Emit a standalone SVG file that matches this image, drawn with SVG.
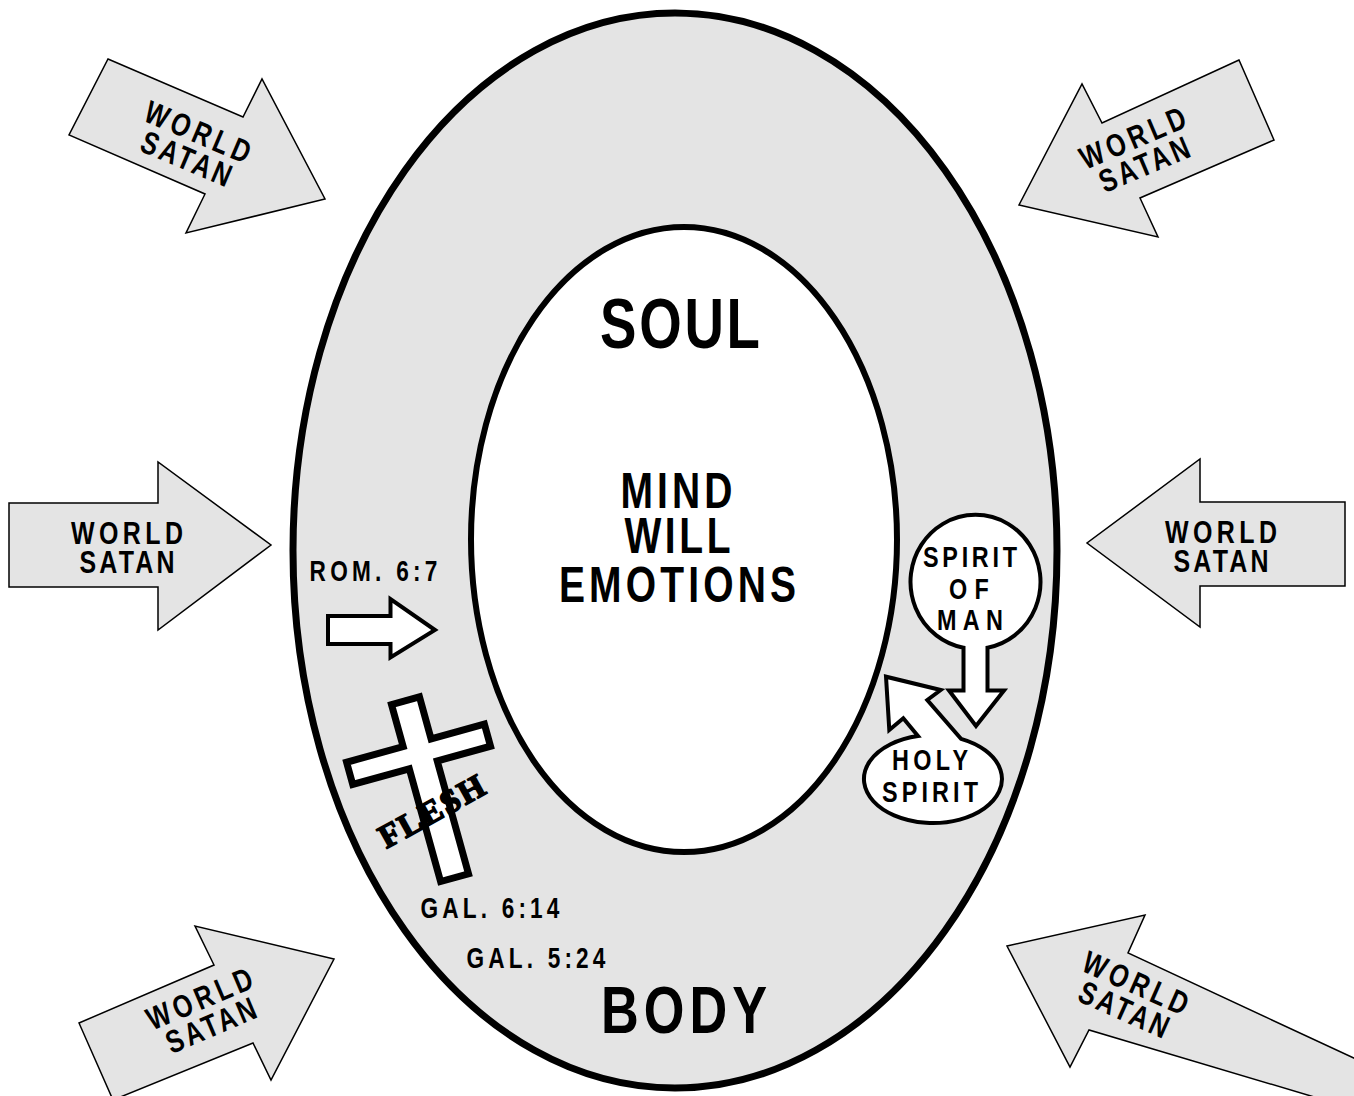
<svg xmlns="http://www.w3.org/2000/svg" width="1354" height="1096" viewBox="0 0 1354 1096">
<style>
.bg{fill:#ffffff}
.ring{fill:#e4e4e4;stroke:#000;stroke-width:7}
.core{fill:#ffffff;stroke:#000;stroke-width:6}
.force{fill:#e4e4e4;stroke:#000;stroke-width:1.5;stroke-linejoin:miter}
.white{fill:#ffffff;stroke:#000;stroke-width:4;stroke-linejoin:miter}
.cross{fill:#ffffff;stroke:#000;stroke-width:7;stroke-linejoin:miter}
text{font-family:"Liberation Sans",Arial,sans-serif;font-weight:bold;fill:#000;text-anchor:middle}
.w{font-size:32px}
.big{font-size:70px}
.mid{font-size:50px}
.lab{font-size:29px}
.bub{font-size:30px}
.flesh{font-family:"Liberation Serif","Times New Roman",serif;font-weight:bold;font-size:33px;stroke:#000;stroke-width:1.6;stroke-linejoin:round}
</style>
<rect class="bg" x="0" y="0" width="1354" height="1096"/>

<g id="body">
<ellipse class="ring" cx="675" cy="550.5" rx="382" ry="537.5"/>
<g transform="translate(684,1033) scale(0.78,1)"><text style="font-size:67px" textLength="213" lengthAdjust="spacing">BODY</text></g>
</g>

<g id="soul">
<ellipse class="core" cx="684" cy="539.5" rx="213" ry="312.5"/>
<g transform="translate(680,348) scale(0.78,1)"><text class="big" textLength="205" lengthAdjust="spacing">SOUL</text></g>
<g transform="translate(676.5,508) scale(0.78,1)"><text class="mid" textLength="143.6" lengthAdjust="spacing">MIND</text></g>
<g transform="translate(677.5,553) scale(0.78,1)"><text class="mid" textLength="136" lengthAdjust="spacing">WILL</text></g>
<g transform="translate(677.5,602) scale(0.78,1)"><text class="mid" textLength="304" lengthAdjust="spacing">EMOTIONS</text></g>
</g>

<g id="world-satan-top-left">
<polygon class="force" points="108,59 243,117 262,79 325,199 186,233 205,194 69,135"/>
<g transform="translate(192.3,144.8) rotate(23) scale(0.78,1)">
<text class="w" x="0" y="-3" textLength="143.6" lengthAdjust="spacing">WORLD</text>
<text class="w" x="0" y="26" textLength="122" lengthAdjust="spacing">SATAN</text>
</g>
</g>

<g id="world-satan-top-right">
<polygon class="force" points="1239,60 1102,123 1082,84 1019,205 1158,237 1140,198 1274,140"/>
<g transform="translate(1138.3,150.8) rotate(-23) scale(0.78,1)">
<text class="w" x="0" y="-3" textLength="143.6" lengthAdjust="spacing">WORLD</text>
<text class="w" x="0" y="26" textLength="122" lengthAdjust="spacing">SATAN</text>
</g>
</g>

<g id="world-satan-left">
<polygon class="force" points="9,503 158,503 158,462 271,545 158,630 158,587 9,587"/>
<g transform="translate(127,547) scale(0.78,1)">
<text class="w" x="0" y="-3" textLength="143.6" lengthAdjust="spacing">WORLD</text>
<text class="w" x="0" y="26" textLength="122" lengthAdjust="spacing">SATAN</text>
</g>
</g>

<g id="world-satan-right">
<polygon class="force" points="1345,502 1200,502 1200,459 1087,543 1200,627 1200,586 1345,586"/>
<g transform="translate(1221,546) scale(0.78,1)">
<text class="w" x="0" y="-3" textLength="143.6" lengthAdjust="spacing">WORLD</text>
<text class="w" x="0" y="26" textLength="122" lengthAdjust="spacing">SATAN</text>
</g>
</g>

<g id="world-satan-bottom-left">
<polygon class="force" points="79,1023 214,965 195,926 334,959 271,1080 253,1043 113,1100"/>
<g transform="translate(205,1011.7) rotate(-23) scale(0.78,1)">
<text class="w" x="0" y="-3" textLength="143.6" lengthAdjust="spacing">WORLD</text>
<text class="w" x="0" y="26" textLength="122" lengthAdjust="spacing">SATAN</text>
</g>
</g>

<g id="world-satan-bottom-right">
<polygon class="force" points="1007,946 1145,915 1128,953 1358,1060 1358,1110 1089,1030 1070,1067"/>
<g transform="translate(1130,995.8) rotate(24) scale(0.78,1)">
<text class="w" x="0" y="-3" textLength="143.6" lengthAdjust="spacing">WORLD</text>
<text class="w" x="0" y="26" textLength="122" lengthAdjust="spacing">SATAN</text>
</g>
</g>

<g id="flesh-cross">
<g transform="translate(420.2,753.8) rotate(-15.5)">
<polygon class="cross" points="-14.5,-55 14.5,-55 14.5,-11.5 69.8,-11.5 69.8,11.5 14.5,11.5 14.5,128.5 -14.5,128.5 -14.5,11.5 -73.2,11.5 -73.2,-11.5 -14.5,-11.5"/>
</g>
<g transform="translate(437,821) rotate(-29)">
<text class="flesh" x="0" y="0" textLength="116" lengthAdjust="spacing">FLESH</text>
</g>
</g>

<g id="references">
<g transform="translate(373.5,581) scale(0.78,1)"><text class="lab" textLength="164" lengthAdjust="spacing">ROM. 6:7</text></g>
<g transform="translate(490,918) scale(0.78,1)"><text class="lab" textLength="178" lengthAdjust="spacing">GAL. 6:14</text></g>
<g transform="translate(536,968) scale(0.78,1)"><text class="lab" textLength="178" lengthAdjust="spacing">GAL. 5:24</text></g>
</g>

<g id="spirit-of-man">
<path class="white" d="M963.5,647.7 A65,67 0 1 1 987.5,647.7 L987.5,690.5 L1004,690.5 L976,726 L949,690.5 L963.5,690.5 Z"/>
<g transform="translate(970,566.7) scale(0.78,1)"><text class="bub" textLength="120.5" lengthAdjust="spacing">SPIRIT</text></g>
<g transform="translate(969,599) scale(0.78,1)"><text class="bub" textLength="51" lengthAdjust="spacing">OF</text></g>
<g transform="translate(970,630) scale(0.78,1)"><text class="bub" textLength="84.6" lengthAdjust="spacing">MAN</text></g>
</g>

<g id="holy-spirit">
<path class="white" d="M961,738.8 A69,44 0 1 1 918,736.05 L903.3,718.3 L889.3,730 L886,676.7 L940.7,690 L927.3,700 Z"/>
<g transform="translate(930,770) scale(0.78,1)"><text class="bub" textLength="97.4" lengthAdjust="spacing">HOLY</text></g>
<g transform="translate(930,801.7) scale(0.78,1)"><text class="bub" textLength="123" lengthAdjust="spacing">SPIRIT</text></g>
</g>

<g id="connectors">
<polygon class="white" points="328,616 390.5,616 390.5,599 435,630 390.5,657.5 390.5,644 328,644"/>
</g>
</svg>
